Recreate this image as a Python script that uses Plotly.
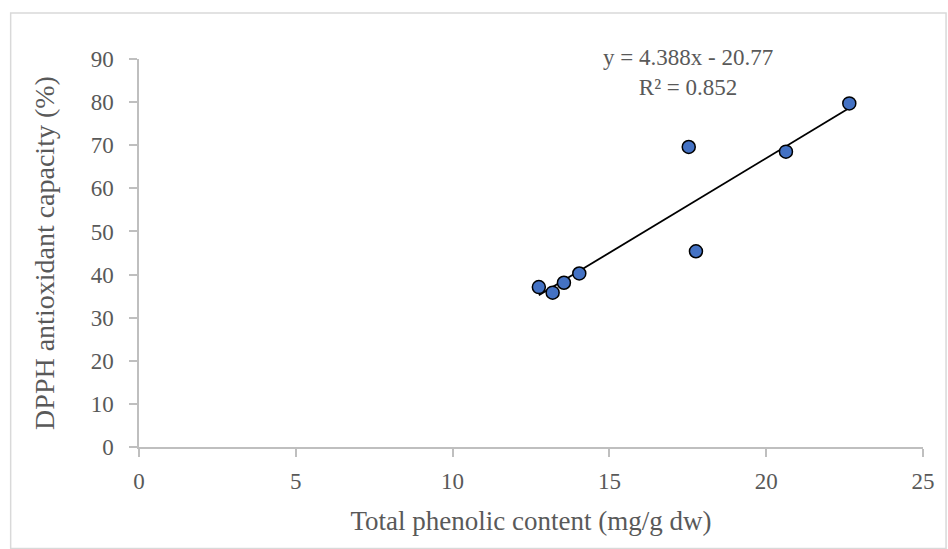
import plotly.graph_objects as go

# Data
phenolic = [12.75, 13.19, 13.55, 14.04, 17.76, 17.53, 20.63, 22.65]
dpph = [37.1, 35.8, 38.1, 40.25, 45.4, 69.6, 68.5, 79.7]
slope = 4.388
intercept = -20.77
r2 = 0.852
x_ticks = [0, 5, 10, 15, 20, 25]
y_ticks = [0, 10, 20, 30, 40, 50, 60, 70, 80, 90]

FONT = "Liberation Serif"
GRAY = "#595959"
AXIS = "#bfbfbf"

x_line = [min(phenolic), max(phenolic)]
y_line = [slope * v + intercept for v in x_line]

fig = go.Figure()
fig.add_trace(go.Scatter(x=x_line, y=y_line, mode="lines",
                         line=dict(color="black", width=1.8), showlegend=False,
                         hoverinfo="skip"))
fig.add_trace(go.Scatter(x=phenolic, y=dpph, mode="markers",
                         marker=dict(size=13, color="#4472C4",
                                     line=dict(color="black", width=1.5)),
                         showlegend=False))

fig.add_annotation(x=0.700, y=0.965, xref="paper", yref="paper",
                   text=f"y = {slope}x - {abs(intercept)}<br>R² = {r2}",
                   showarrow=False, align="center", xanchor="center",
                   yanchor="middle",
                   font=dict(family=FONT, size=23, color=GRAY))

fig.update_layout(
    width=948, height=549,
    margin=dict(l=139, r=25, t=59, b=102),
    paper_bgcolor="white", plot_bgcolor="white",
    font=dict(family=FONT, color=GRAY),
    shapes=[dict(type="rect", xref="paper", yref="paper",
                 x0=-0.1637, x1=1.0294, y0=-0.2613, y1=1.1186,
                 line=dict(color="#d9d9d9", width=1.5))],
)
fig.update_xaxes(range=[0, 25], tickvals=x_ticks, showgrid=False, zeroline=False,
                 showline=True, linecolor=AXIS, linewidth=1.5,
                 ticks="outside", tickcolor=AXIS, ticklen=8, tickwidth=1.5,
                 ticklabelstandoff=5,
                 tickfont=dict(family=FONT, size=23, color=GRAY),
                 title=dict(text="Total phenolic content (mg/g dw)", standoff=18,
                            font=dict(family=FONT, size=27, color=GRAY)))
fig.update_yaxes(range=[0, 90], tickvals=y_ticks, showgrid=False, zeroline=False,
                 showline=True, linecolor=AXIS, linewidth=1.5,
                 ticks="outside", tickcolor=AXIS, ticklen=8, tickwidth=1.5,
                 ticklabelstandoff=11,
                 tickfont=dict(family=FONT, size=23, color=GRAY),
                 title=dict(text="DPPH antioxidant capacity (%)", standoff=28,
                            font=dict(family=FONT, size=28, color=GRAY)))

fig.write_html("out.html", config={"displayModeBar": False},
               post_script="document.body.style.margin='0';")
